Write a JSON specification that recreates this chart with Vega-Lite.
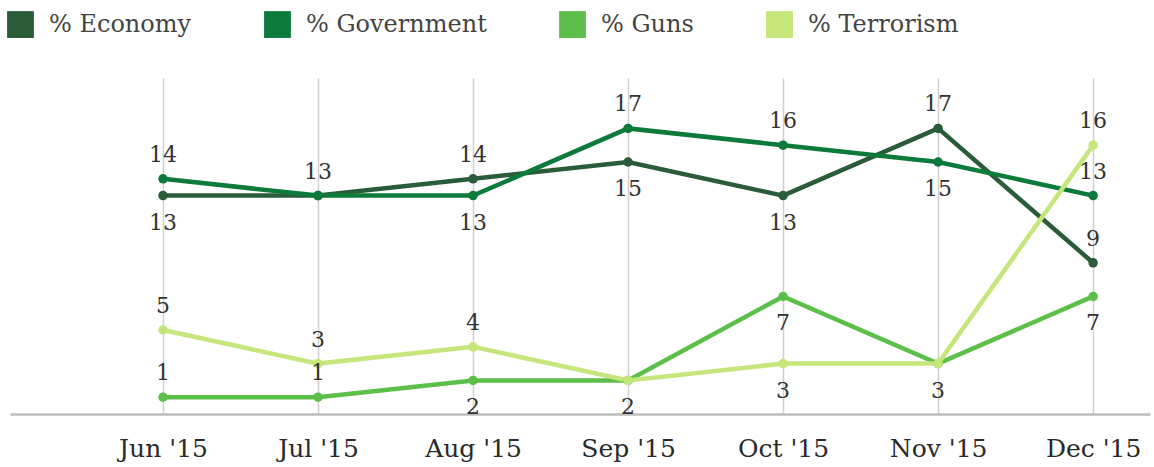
{
  "$schema": "https://vega.github.io/schema/vega-lite/v6.json",
  "autosize": "none",
  "width": 1140,
  "height": 336,
  "padding": {"left": 10, "top": 78, "right": 4, "bottom": 53},
  "background": "white",
  "datasets": {
    "series": [
      {"month": "Jun '15", "series": "% Economy", "value": 13},
      {"month": "Jul '15", "series": "% Economy", "value": 13},
      {"month": "Aug '15", "series": "% Economy", "value": 14},
      {"month": "Sep '15", "series": "% Economy", "value": 15},
      {"month": "Oct '15", "series": "% Economy", "value": 13},
      {"month": "Nov '15", "series": "% Economy", "value": 17},
      {"month": "Dec '15", "series": "% Economy", "value": 9},
      {"month": "Jun '15", "series": "% Government", "value": 14},
      {"month": "Jul '15", "series": "% Government", "value": 13},
      {"month": "Aug '15", "series": "% Government", "value": 13},
      {"month": "Sep '15", "series": "% Government", "value": 17},
      {"month": "Oct '15", "series": "% Government", "value": 16},
      {"month": "Nov '15", "series": "% Government", "value": 15},
      {"month": "Dec '15", "series": "% Government", "value": 13},
      {"month": "Jun '15", "series": "% Guns", "value": 1},
      {"month": "Jul '15", "series": "% Guns", "value": 1},
      {"month": "Aug '15", "series": "% Guns", "value": 2},
      {"month": "Sep '15", "series": "% Guns", "value": 2},
      {"month": "Oct '15", "series": "% Guns", "value": 7},
      {"month": "Nov '15", "series": "% Guns", "value": 3},
      {"month": "Dec '15", "series": "% Guns", "value": 7},
      {"month": "Jun '15", "series": "% Terrorism", "value": 5},
      {"month": "Jul '15", "series": "% Terrorism", "value": 3},
      {"month": "Aug '15", "series": "% Terrorism", "value": 4},
      {"month": "Sep '15", "series": "% Terrorism", "value": 2},
      {"month": "Oct '15", "series": "% Terrorism", "value": 3},
      {"month": "Nov '15", "series": "% Terrorism", "value": 3},
      {"month": "Dec '15", "series": "% Terrorism", "value": 16}
    ],
    "above": [
      {"month": "Jun '15", "value": 14},
      {"month": "Jul '15", "value": 13},
      {"month": "Aug '15", "value": 14},
      {"month": "Sep '15", "value": 17},
      {"month": "Oct '15", "value": 16},
      {"month": "Nov '15", "value": 17},
      {"month": "Dec '15", "value": 16},
      {"month": "Dec '15", "value": 13},
      {"month": "Dec '15", "value": 9},
      {"month": "Jun '15", "value": 5},
      {"month": "Jun '15", "value": 1},
      {"month": "Jul '15", "value": 3},
      {"month": "Jul '15", "value": 1},
      {"month": "Aug '15", "value": 4}
    ],
    "below": [
      {"month": "Jun '15", "value": 13},
      {"month": "Aug '15", "value": 13},
      {"month": "Sep '15", "value": 15},
      {"month": "Oct '15", "value": 13},
      {"month": "Nov '15", "value": 15},
      {"month": "Aug '15", "value": 2},
      {"month": "Sep '15", "value": 2},
      {"month": "Oct '15", "value": 7},
      {"month": "Oct '15", "value": 3},
      {"month": "Nov '15", "value": 3},
      {"month": "Dec '15", "value": 7}
    ]
  },
  "config": {
    "view": {"stroke": null},
    "font": "DejaVu Serif"
  },
  "encoding": {
    "x": {
      "field": "month",
      "type": "ordinal",
      "sort": ["Jun '15", "Jul '15", "Aug '15", "Sep '15", "Oct '15", "Nov '15", "Dec '15"],
      "scale": {"type": "point", "padding": 0.677, "align": 0.729},
      "axis": {
        "title": null,
        "labelAngle": 0,
        "labelFont": "DejaVu Serif",
        "labelFontSize": 25,
        "labelColor": "#2a2a2a",
        "labelPadding": 22,
        "ticks": false,
        "grid": true,
        "gridColor": "#d0d0d0",
        "gridWidth": 1.5,
        "domain": true,
        "domainColor": "#bdbdbd",
        "domainWidth": 2.5
      }
    },
    "y": {
      "field": "value",
      "type": "quantitative",
      "scale": {"domain": [0, 20], "nice": false},
      "axis": null
    }
  },
  "layer": [
    {
      "data": {"name": "series"},
      "mark": {"type": "line", "strokeWidth": 4.5, "point": {"filled": true, "size": 90}},
      "encoding": {
        "color": {
          "field": "series",
          "type": "nominal",
          "scale": {
            "domain": ["% Economy", "% Government", "% Guns", "% Terrorism"],
            "range": ["#2b5c39", "#0c7a3a", "#5cbf4a", "#c4e67a"]
          },
          "legend": {
            "title": null,
            "orient": "none",
            "legendX": -3,
            "legendY": -67,
            "direction": "horizontal",
            "columns": 4,
            "symbolType": "square",
            "symbolSize": 720,
            "symbolStrokeWidth": 0,
            "labelFont": "DejaVu Serif",
            "labelFontSize": 24,
            "labelColor": "#444444",
            "labelOffset": 15,
            "columnPadding": 72,
            "labelLimit": 300
          }
        }
      }
    },
    {
      "data": {"name": "above"},
      "mark": {"type": "text", "dy": -24, "font": "DejaVu Serif", "fontSize": 22, "color": "#333333"},
      "encoding": {"text": {"field": "value", "type": "quantitative"}}
    },
    {
      "data": {"name": "below"},
      "mark": {"type": "text", "dy": 27, "font": "DejaVu Serif", "fontSize": 22, "color": "#333333"},
      "encoding": {"text": {"field": "value", "type": "quantitative"}}
    }
  ]
}
